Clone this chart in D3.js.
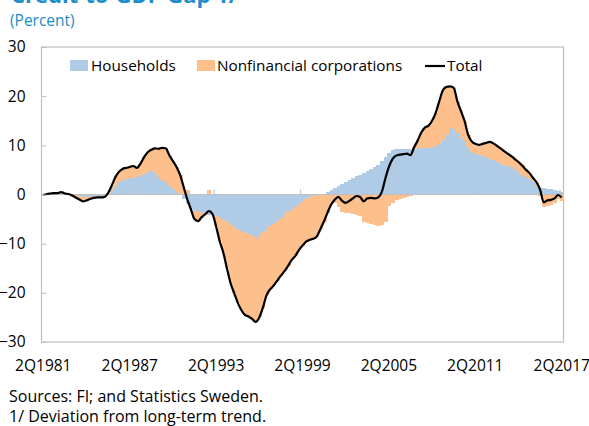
<!DOCTYPE html>
<html>
<head>
<meta charset="utf-8">
<script src="https://cdn.jsdelivr.net/npm/d3@7"></script>
<style>
  body { margin: 0; background: #fff; }
  svg { display: block; font-family: "Open Sans", "Noto Sans", sans-serif; }
</style>
</head>
<body>
<div id="chart"></div>
<script>
// quarterly data, 2Q1981 .. 2Q2017 (percent of trend)
const households = [
  0, 0, 0, 0, 0, 0, 0, 0, 0,
  -0.2, -0.4, -0.5, -0.5, -0.5, -0.4, -0.4, -0.4, -0.3, 0.2,
  0.7, 1.8, 2.6, 3.0, 3.2, 3.3, 3.4, 3.6, 3.9, 4.2, 4.5, 4.8, 4.2, 3.6, 3.0, 2.5, 1.8, 1.2, 0.6, 0.2,
  -1.0, -2.0, -2.9, -3.4, -3.6, -3.7, -3.6, -4.2, -3.8, -4.4, -4.8, -5.1, -5.5, -6.2, -6.8, -7.2, -7.5, -7.8, -8.0, -8.4,
  -9.1, -8.2, -7.6, -7.0, -6.4, -5.9, -5.3, -4.7, -4.1, -3.6, -3.1, -2.5, -1.9, -1.4, -1.0, -0.6, -0.3, -0.2, -0.1,
  0.2, 0.5, 0.9, 1.3, 1.8, 2.2, 2.6, 3.0, 3.3, 3.7, 4.0, 4.4, 4.8, 5.1, 5.5, 6.0, 6.8, 7.6, 8.4, 9.0,
  9.2, 9.3, 9.3, 9.3, 9.3, 9.3, 9.4, 9.4, 9.5, 9.5, 9.6, 9.8, 10.3, 11.0, 12.2, 13.5, 13.3, 12.5, 11.5, 10.8,
  9.6, 8.6, 8.2, 8.0, 7.8, 7.6, 7.3, 7.0, 6.6, 6.3, 6.0, 5.8, 5.5, 5.0, 4.5, 4.0, 3.5, 3.1, 2.5, 1.8,
  1.4, 1.3, 1.2, 1.1, 0.9, 0.8, 0.6
];
const corporations = [
  -0.1, 0.1, 0.2, 0.3, 0.3, 0.4, 0.2, 0.1, -0.1,
  -0.4, -0.6, -0.9, -0.7, -0.4, -0.3, -0.2, -0.2, -0.2, 0.1,
  1.1, 1.7, 2.0, 2.2, 2.2, 2.3, 2.4, 1.8, 2.4, 3.4, 4.1, 4.3, 5.2, 5.7, 6.5, 6.9, 6.2, 5.6, 5.0, 3.8,
  1.0, 0.9, -0.1, -1.5, -1.8, -1.0, -0.4, 1.0, -0.2, -2.1, -4.7, -6.7, -9.5, -11.8, -13.2, -14.8, -16.0, -16.7, -16.8, -16.9,
  -16.8, -16.8, -15.4, -13.5, -12.9, -12.6, -12.2, -11.8, -11.5, -10.9, -10.2, -10.0, -9.4, -9.0, -8.6, -8.6, -8.7, -8.3, -6.9,
  -5.6, -3.8, -1.8, -1.7, -2.5, -3.5, -3.7, -3.8, -3.9, -4.1, -4.3, -5.6, -5.8, -5.9, -6.2, -6.4, -6.3, -5.5, -2.4, -1.7,
  -1.2, -0.9, -0.7, -0.6, -0.4, 0.3, 1.6, 3.2, 4.1, 4.5, 5.4, 6.8, 8.7, 10.2, 9.7, 8.5, 8.4, 6.5, 5.5, 4.2,
  2.6, 2.2, 2.1, 2.1, 2.5, 2.9, 3.4, 3.4, 3.3, 3.1, 2.8, 2.5, 2.3, 2.2, 2.1, 1.9, 1.6, 1.3, 0.9, 0.7,
  -0.4, -2.5, -2.4, -2.2, -1.8, -1.0, -1.3
];
const total = [
  -0.1, 0.1, 0.2, 0.3, 0.3, 0.5, 0.2, 0.1, -0.2,
  -0.6, -1.0, -1.4, -1.2, -0.9, -0.7, -0.6, -0.6, -0.5, 0.3,
  1.8, 3.5, 4.6, 5.2, 5.4, 5.6, 5.8, 5.4, 6.3, 7.6, 8.6, 9.1, 9.4, 9.3, 9.5, 9.4, 8.0, 6.8, 5.6, 4.0,
  1.5, -1.0, -3.0, -5.0, -5.4, -4.6, -4.0, -3.4, -4.0, -6.5, -9.5, -11.8, -15.0, -18.0, -20.0, -22.0, -23.5, -24.5, -24.8, -25.3,
  -25.9, -25.0, -23.0, -20.5, -19.3, -18.5, -17.5, -16.5, -15.6, -14.5, -13.3, -12.5, -11.3, -10.4, -9.6, -9.2, -9.0, -8.5, -7.0,
  -5.4, -3.6, -2.0, -1.0, -0.5, -1.3, -1.7, -1.3, -0.8, -0.3, -0.5, -1.4, -0.8, -0.7, -0.8, -0.6, 0.5, 3.2, 5.6, 7.2,
  7.9, 8.1, 8.2, 8.3, 8.0, 9.6, 11.0, 12.6, 13.6, 14.0, 15.0, 16.6, 19.0, 21.2, 21.9, 22.0, 21.7, 19.0, 17.0, 15.0,
  12.2, 10.8, 10.3, 10.1, 10.3, 10.5, 10.7, 10.4, 9.9, 9.4, 8.8, 8.3, 7.8, 7.2, 6.6, 5.9, 5.1, 4.4, 3.4, 2.5,
  1.0, -1.6, -1.2, -1.1, -0.8, -0.1, -0.6
];
const xTickLabels = ["2Q1981", "2Q1987", "2Q1993", "2Q1999", "2Q2005", "2Q2011", "2Q2017"];
const yTicks = [-30, -20, -10, 0, 10, 20, 30];
const seriesNames = ["Households", "Nonfinancial corporations", "Total"];

// quarter labels for the category axis
const quarters = [];
for (let yr = 1981, q = 2; quarters.length < households.length; ) {
  quarters.push(q + "Q" + yr);
  q++;
  if (q > 4) { q = 1; yr++; }
}

const width = 589, height = 426;
const plot = {left: 41.5, right: 563.5, top: 47, bottom: 342};
const blue = "#afcbe5", orange = "#fdbf8b", axisGrey = "#bfbfbf";

const svg = d3.select("#chart").append("svg")
  .attr("width", width)
  .attr("height", height);

const x = d3.scaleBand().domain(quarters).range([plot.left, plot.right]).padding(0);
const y = d3.scaleLinear().domain([-30, 30]).range([plot.bottom, plot.top]);

const rows = quarters.map((q, i) => ({q: q, hh: households[i], nfc: corporations[i]}));
const stacked = d3.stack().keys(["hh", "nfc"]).offset(d3.stackOffsetDiverging)(rows);

// titles (the main one is cut by the top edge, as in the original)
svg.append("text")
  .attr("x", 11).attr("y", 3)
  .style("font-size", "22px").style("font-weight", "bold").style("fill", "#1c8dc6")
  .text("Credit-to-GDP Gap 1/");
svg.append("text")
  .attr("x", 10).attr("y", 26)
  .style("font-size", "15.5px").style("fill", "#1c8dc6")
  .text("(Percent)");

// frame
svg.append("rect")
  .attr("x", plot.left).attr("y", plot.top)
  .attr("width", plot.right - plot.left).attr("height", plot.bottom - plot.top)
  .style("fill", "none").style("stroke", axisGrey).style("stroke-width", 1.2);

// stacked columns
svg.selectAll(".layer")
  .data(stacked)
  .enter().append("g")
  .attr("class", "layer")
  .style("fill", (d, i) => i === 0 ? blue : orange)
  .selectAll("rect")
  .data(d => d)
  .enter().append("rect")
  .attr("x", d => x(d.data.q))
  .attr("width", x.bandwidth() + 0.6)
  .attr("y", d => y(Math.max(d[0], d[1])))
  .attr("height", d => Math.abs(y(d[0]) - y(d[1])))
  .attr("shape-rendering", "crispEdges");

// zero line with category ticks
svg.append("line")
  .attr("x1", plot.left).attr("x2", plot.right)
  .attr("y1", y(0)).attr("y2", y(0))
  .style("stroke", axisGrey).style("stroke-width", 1.2);
svg.selectAll(".xtick")
  .data(xTickLabels)
  .enter().append("line")
  .attr("x1", d => x(d)).attr("x2", d => x(d))
  .attr("y1", y(0)).attr("y2", y(0) - 5)
  .style("stroke", axisGrey);

// total line
const line = d3.line()
  .x((d, i) => x(quarters[i]) + x.bandwidth() / 2)
  .y(d => y(d))
  .curve(d3.curveMonotoneX);
svg.append("path")
  .datum(total)
  .attr("d", line)
  .style("fill", "none").style("stroke", "#000").style("stroke-width", 2.2);

// y axis
const yAxis = svg.append("g")
  .attr("transform", `translate(${plot.left},0)`)
  .call(d3.axisLeft(y).tickValues(yTicks).tickSize(-5).tickPadding(16));
yAxis.select(".domain").remove();
yAxis.selectAll("line").style("stroke", axisGrey);
yAxis.selectAll("text").style("font-size", "15.5px").style("fill", "#000")
  .style("font-family", "'Open Sans', sans-serif");

// x labels
const xAxis = svg.append("g")
  .attr("transform", `translate(0,${plot.bottom})`)
  .call(d3.axisBottom(x).tickValues(xTickLabels).tickSize(0).tickPadding(18));
xAxis.select(".domain").remove();
xAxis.selectAll("text").style("font-size", "15.5px").style("fill", "#000")
  .style("font-family", "'Open Sans', sans-serif");

// legend
const legend = svg.append("g").style("font-size", "15.3px");
legend.append("rect").attr("x", 70).attr("y", 60).attr("width", 18).attr("height", 11).style("fill", blue);
legend.append("text").attr("x", 91).attr("y", 66).attr("dy", "0.35em").text(seriesNames[0]);
legend.append("rect").attr("x", 197).attr("y", 60).attr("width", 18).attr("height", 11).style("fill", orange);
legend.append("text").attr("x", 217).attr("y", 66).attr("dy", "0.35em").text(seriesNames[1]);
legend.append("line").attr("x1", 425).attr("x2", 445).attr("y1", 66).attr("y2", 66)
  .style("stroke", "#000").style("stroke-width", 2.2);
legend.append("text").attr("x", 447).attr("y", 66).attr("dy", "0.35em").text(seriesNames[2]);

// notes
svg.append("text").attr("x", 9).attr("y", 396).attr("dy", "0.35em")
  .style("font-size", "16px").text("Sources: FI; and Statistics Sweden.");
svg.append("text").attr("x", 9).attr("y", 416).attr("dy", "0.35em")
  .style("font-size", "16px").text("1/ Deviation from long-term trend.");
</script>
</body>
</html>
